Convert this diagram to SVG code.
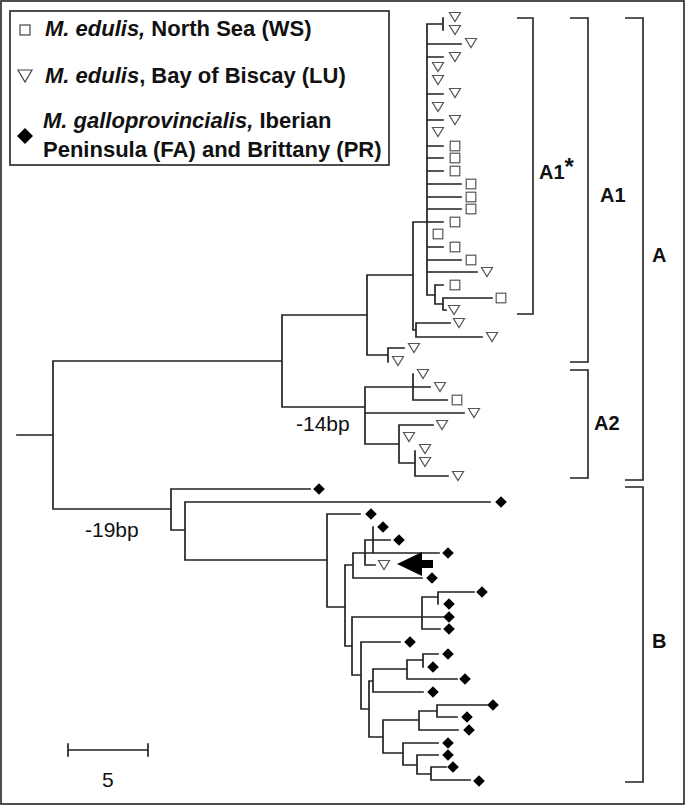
<svg xmlns="http://www.w3.org/2000/svg" xmlns:xlink="http://www.w3.org/1999/xlink" width="685" height="806" viewBox="0 0 685 806">
<style>
.ln{fill:none;stroke:#222;stroke-width:1.7;stroke-linecap:square}
.br{fill:none;stroke:#222;stroke-width:1.6}
.lg{font-family:"Liberation Sans",Arial,sans-serif;font-weight:bold;font-size:22px;fill:#111}
.it{font-style:italic}
.bp{font-family:"Liberation Sans",Arial,sans-serif;font-size:21px;fill:#111}
.cl{font-family:"Liberation Sans",Arial,sans-serif;font-weight:bold;font-size:20px;fill:#111}
</style>
<defs>
<path id="tri" d="M-5.5,-4.5 L5.5,-4.5 L0,4.5 Z" fill="#fff" stroke="#555" stroke-width="1.2"/>
<rect id="sq" x="-4.8" y="-4.8" width="9.6" height="9.6" fill="#fff" stroke="#555" stroke-width="1.2"/>
<path id="dia" d="M0,-5.8 L5.8,0 L0,5.8 L-5.8,0 Z" fill="#000"/>
</defs>
<rect x="0" y="0" width="685" height="806" fill="#fff"/>
<rect id="frame" x="1" y="1" width="683" height="803" fill="none" stroke="#222" stroke-width="1.6"/>

<g id="legend">
<rect x="10" y="11" width="379" height="154" fill="#fff" stroke="#222" stroke-width="1.6"/>
<g id="leg-ws"><rect x="20" y="25" width="10" height="10" fill="#fff" stroke="#444" stroke-width="1.2"/>
<text class="lg" x="45" y="36"><tspan class="it">M. edulis,</tspan> North Sea (WS)</text></g>
<g id="leg-lu"><path d="M18,70 L32,70 L25,82 Z" fill="#fff" stroke="#444" stroke-width="1.2"/>
<text class="lg" x="45" y="83"><tspan class="it">M. edulis</tspan>, Bay of Biscay (LU)</text></g>
<g id="leg-ga"><path d="M25,128 L33,136 L25,144 L17,136 Z" fill="#000"/>
<text class="lg" x="43" y="128"><tspan class="it">M. galloprovincialis,</tspan> Iberian</text>
<text class="lg" x="43" y="157">Peninsula (FA) and Brittany (PR)</text></g>
</g>

<g id="connectors">
<path class="ln" d="M17,435 H53 M53,361 V509 M53,361 H282 M53,509 H171 M282,315 V407 M282,315 H367 M282,407 H365
M367,275 V355 M367,275 H413 M367,355 H388 M388,348 V362 M388,348 H404 M413,222 V330 M413,222 H443 M413,330 H416 M416,323 V337 M416,323 H450 M416,337 H482
M427,24 V295 M427,24 H443 M443,18 V30 M427,44 H461 M427,57 H443 M427,94 H443 M427,120 H443 M427,146 H443 M427,158 H443 M427,171 H443 M427,184 H461 M427,197 H461 M427,209 H461 M427,247 H443 M427,260 H461 M427,272 H477 M427,295 H435 M435,285 V304 M435,285 H443 M435,304 H443 M443,298 V310 M443,298 H492 M443,310 H446
M365,387 V444 M365,387 H430 M413,374 V400 M413,400 H447 M365,413 H464 M365,444 H399 M399,425 V463 M399,425 H433 M399,463 H415 M415,451 V476 M415,476 H448
M171,489 V530 M171,489 H310 M171,530 H185 M185,502 V560 M185,502 H490 M185,560 H327 M327,514 V607 M327,514 H360 M327,607 H345 M345,565 V646 M345,565 H353 M353,553 V578 M353,553 H439 M353,578 H422 M365,540 V565 M365,540 H390 M365,565 H375 M373,527 V553
M345,646 H352 M352,617 V675 M352,617 H443 M422,597 V629 M422,597 H438 M438,592 V604 M438,592 H474 M422,629 H440 M352,675 H361 M361,642 V709 M361,642 H400 M361,709 H369 M369,681 V737 M369,681 H373 M373,669 V692 M373,669 H407 M407,660 V679 M407,660 H423 M423,654 V667 M423,654 H438 M407,679 H457 M373,692 H423
M369,737 H383 M383,720 V753 M383,720 H419 M419,711 V730 M419,711 H437 M437,705 V717 M437,705 H487 M437,717 H457 M419,730 H458 M383,753 H403 M403,743 V765 M403,743 H438 M403,765 H417 M417,755 V774 M417,755 H438 M417,774 H431 M431,767 V780 M431,767 H446 M431,780 H470"/>
<path id="arrow" d="M397,564 L422,552 L422,560 L433,560 L433,568 L422,568 L422,576 Z" fill="#000"/>
</g>

<g id="tips">
<use id="a01" xlink:href="#tri" x="455" y="17"/>
<use id="a02" xlink:href="#tri" x="455" y="30"/>
<use id="a03" xlink:href="#tri" x="471" y="43"/>
<use id="a04" xlink:href="#tri" x="455" y="57"/>
<use id="a05" xlink:href="#tri" x="438" y="67"/>
<use id="a06" xlink:href="#tri" x="438" y="80"/>
<use id="a07" xlink:href="#tri" x="455" y="93"/>
<use id="a08" xlink:href="#tri" x="438" y="107"/>
<use id="a09" xlink:href="#tri" x="455" y="120"/>
<use id="a10" xlink:href="#tri" x="438" y="132"/>
<use id="a11" xlink:href="#sq" x="455" y="146"/>
<use id="a12" xlink:href="#sq" x="455" y="158"/>
<use id="a13" xlink:href="#sq" x="455" y="171"/>
<use id="a14" xlink:href="#sq" x="471" y="184"/>
<use id="a15" xlink:href="#sq" x="471" y="197"/>
<use id="a16" xlink:href="#sq" x="471" y="209"/>
<use id="a17" xlink:href="#sq" x="455" y="222"/>
<use id="a18" xlink:href="#sq" x="438" y="234"/>
<use id="a19" xlink:href="#sq" x="455" y="247"/>
<use id="a20" xlink:href="#sq" x="471" y="260"/>
<use id="a21" xlink:href="#tri" x="487" y="272"/>
<use id="a22" xlink:href="#sq" x="455" y="285"/>
<use id="a23" xlink:href="#sq" x="501" y="298"/>
<use id="a24" xlink:href="#tri" x="454" y="310"/>
<use id="a25" xlink:href="#tri" x="459" y="323"/>
<use id="a26" xlink:href="#tri" x="492" y="337"/>
<use id="a27" xlink:href="#tri" x="414" y="348"/>
<use id="a28" xlink:href="#tri" x="398" y="361"/>
<use id="b01" xlink:href="#tri" x="423" y="374"/>
<use id="b02" xlink:href="#tri" x="440" y="387"/>
<use id="b03" xlink:href="#sq" x="457" y="400"/>
<use id="b04" xlink:href="#tri" x="474" y="413"/>
<use id="b05" xlink:href="#tri" x="442" y="425"/>
<use id="b06" xlink:href="#tri" x="409" y="437"/>
<use id="b07" xlink:href="#tri" x="425" y="449"/>
<use id="b08" xlink:href="#tri" x="425" y="462"/>
<use id="b09" xlink:href="#tri" x="458" y="476"/>
<use id="c01" xlink:href="#dia" x="319" y="489"/>
<use id="c02" xlink:href="#dia" x="501" y="502"/>
<use id="c03" xlink:href="#dia" x="371" y="514"/>
<use id="c04" xlink:href="#dia" x="383" y="527"/>
<use id="c05" xlink:href="#dia" x="399" y="540"/>
<use id="c06" xlink:href="#dia" x="448" y="553"/>
<use id="c07" xlink:href="#tri" x="384" y="565"/>
<use id="c08" xlink:href="#dia" x="432" y="578"/>
<use id="c09" xlink:href="#dia" x="482" y="592"/>
<use id="c10" xlink:href="#dia" x="449" y="604"/>
<use id="c11" xlink:href="#dia" x="449" y="617"/>
<use id="c12" xlink:href="#dia" x="449" y="629"/>
<use id="c13" xlink:href="#dia" x="410" y="642"/>
<use id="c14" xlink:href="#dia" x="448" y="654"/>
<use id="c15" xlink:href="#dia" x="433" y="667"/>
<use id="c16" xlink:href="#dia" x="465" y="679"/>
<use id="c17" xlink:href="#dia" x="433" y="692"/>
<use id="c18" xlink:href="#dia" x="493" y="705"/>
<use id="c19" xlink:href="#dia" x="467" y="717"/>
<use id="c20" xlink:href="#dia" x="469" y="730"/>
<use id="c21" xlink:href="#dia" x="448" y="743"/>
<use id="c22" xlink:href="#dia" x="448" y="755"/>
<use id="c23" xlink:href="#dia" x="453" y="767"/>
<use id="c24" xlink:href="#dia" x="479" y="781"/>
</g>

<g id="branch-labels">
<text class="bp" x="296" y="431">-14bp</text>
<text class="bp" x="85" y="537">-19bp</text>
</g>

<g id="clades">
<g id="clade-A1star"><path class="br" d="M517,18 H533 V314 H517"/><text class="cl" x="539" y="179">A1<tspan font-size="24" dy="-4">*</tspan></text></g>
<g id="clade-A1"><path class="br" d="M570,18 H588 V362 H570"/><text class="cl" x="600" y="202">A1</text></g>
<g id="clade-A2"><path class="br" d="M570,370 H588 V478 H570"/><text class="cl" x="594" y="430">A2</text></g>
<g id="clade-A"><path class="br" d="M625,18 H643 V480 H625"/><text class="cl" x="652" y="262">A</text></g>
<g id="clade-B"><path class="br" d="M625,487 H643 V782 H625"/><text class="cl" x="652" y="648">B</text></g>
</g>

<g id="scalebar">
<path class="ln" d="M68,750 H148 M68,744 V756 M148,744 V756"/>
<text class="bp" x="102" y="787">5</text>
</g>
</svg>
